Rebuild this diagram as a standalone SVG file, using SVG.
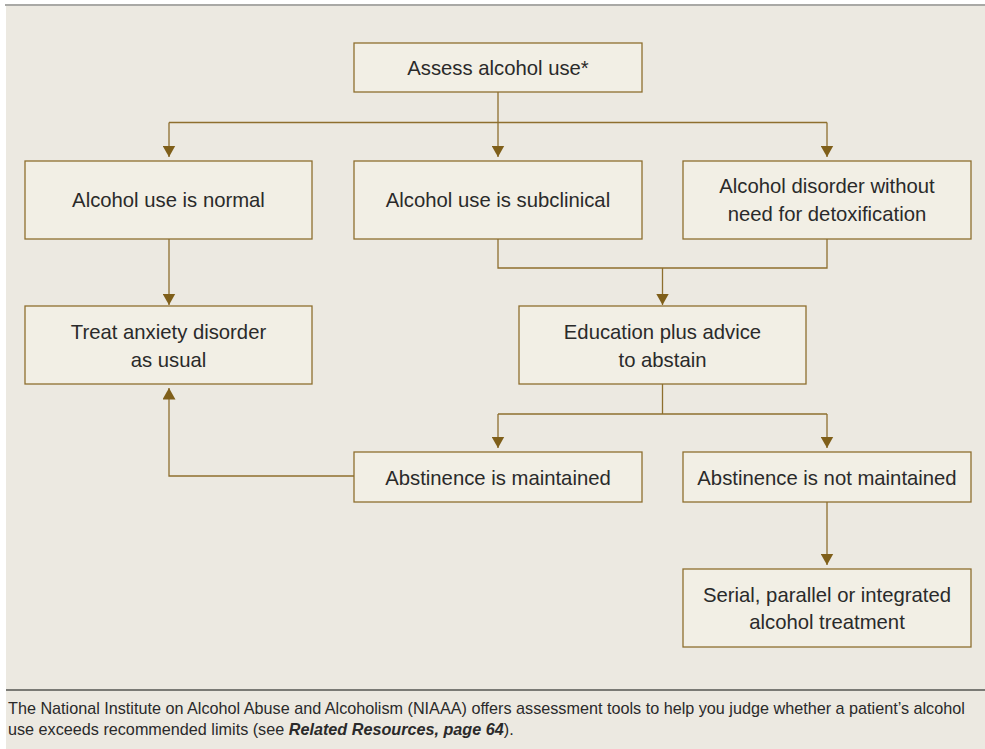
<svg xmlns="http://www.w3.org/2000/svg" width="985" height="749" viewBox="0 0 985 749">
<defs>
<style>
.box{fill:#f2efe5;stroke:#8e6f2e;stroke-width:1.3}
.t{font-family:"Liberation Sans",Arial,sans-serif;font-size:20.3px;fill:#2a2a2a;text-anchor:middle}
.c{stroke:#8e6f2e;stroke-width:1.3;fill:none}
.cap{font-family:"Liberation Sans",Arial,sans-serif;font-size:16.2px;fill:#2a2a2a}
</style>
<marker id="ah" markerUnits="userSpaceOnUse" markerWidth="13" markerHeight="13" refX="11.5" refY="6.5" orient="auto" viewBox="0 0 13 13">
<path d="M0,0 L11.5,6.5 L0,13 z" fill="#7f5f1a"/>
</marker>
</defs>
<rect x="0" y="0" width="985" height="749" fill="#ffffff"/>
<rect x="6" y="5" width="979" height="744" fill="#ece9e1"/>
<line x1="5" y1="5" x2="985" y2="5" stroke="#a9a9a6" stroke-width="2"/>

<g id="connectors">
<path class="c" d="M498,92 V122.5"/>
<path class="c" d="M169,122.5 H827"/>
<path class="c" d="M169,122.5 V157" marker-end="url(#ah)"/>
<path class="c" d="M498,122.5 V157" marker-end="url(#ah)"/>
<path class="c" d="M827,122.5 V157" marker-end="url(#ah)"/>
<path class="c" d="M169,239 V305" marker-end="url(#ah)"/>
<path class="c" d="M498,239 V268 H827 V239"/>
<path class="c" d="M662.5,268 V305" marker-end="url(#ah)"/>
<path class="c" d="M662.5,384 V414"/>
<path class="c" d="M498,414 H827"/>
<path class="c" d="M498,414 V448" marker-end="url(#ah)"/>
<path class="c" d="M827,414 V448" marker-end="url(#ah)"/>
<path class="c" d="M354,476 H169 V388" marker-end="url(#ah)"/>
<path class="c" d="M827,502 V565" marker-end="url(#ah)"/>
</g>

<g id="assess">
<rect class="box" x="354" y="43" width="288" height="49"/>
<text class="t" x="498" y="75">Assess alcohol use*</text>
</g>
<g id="normal">
<rect class="box" x="25" y="161" width="287" height="78"/>
<text class="t" x="168.5" y="207">Alcohol use is normal</text>
</g>
<g id="subclinical">
<rect class="box" x="354" y="161" width="288" height="78"/>
<text class="t" x="498" y="207">Alcohol use is subclinical</text>
</g>
<g id="disorder">
<rect class="box" x="683" y="161" width="288" height="78"/>
<text class="t" x="827" y="193">Alcohol disorder without</text>
<text class="t" x="827" y="220.5">need for detoxification</text>
</g>
<g id="treat">
<rect class="box" x="25" y="306" width="287" height="78"/>
<text class="t" x="168.5" y="339">Treat anxiety disorder</text>
<text class="t" x="168.5" y="366.5">as usual</text>
</g>
<g id="education">
<rect class="box" x="519" y="306" width="287" height="78"/>
<text class="t" x="662.5" y="339">Education plus advice</text>
<text class="t" x="662.5" y="366.5">to abstain</text>
</g>
<g id="maintained">
<rect class="box" x="354" y="452" width="288" height="50"/>
<text class="t" x="498" y="484.5">Abstinence is maintained</text>
</g>
<g id="notmaintained">
<rect class="box" x="683" y="452" width="288" height="50"/>
<text class="t" x="827" y="484.5">Abstinence is not maintained</text>
</g>
<g id="serial">
<rect class="box" x="683" y="569" width="288" height="78"/>
<text class="t" x="827" y="601.5">Serial, parallel or integrated</text>
<text class="t" x="827" y="629">alcohol treatment</text>
</g>

<line x1="6" y1="690" x2="985" y2="690" stroke="#555550" stroke-width="1.5"/>
<text class="cap" x="8" y="714">The National Institute on Alcohol Abuse and Alcoholism (NIAAA) offers assessment tools to help you judge whether a patient’s alcohol</text>
<text class="cap" x="8" y="735">use exceeds recommended limits (see <tspan font-weight="bold" font-style="italic">Related Resources, page 64</tspan>).</text>
</svg>
